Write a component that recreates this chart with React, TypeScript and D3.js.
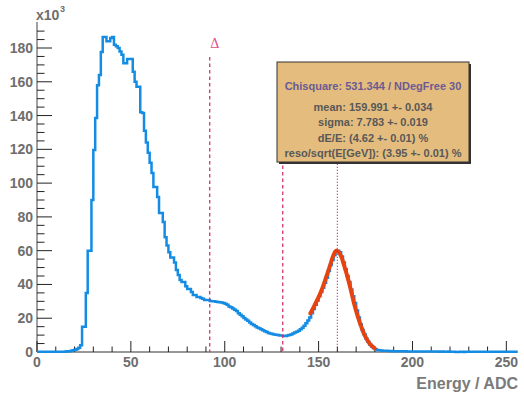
import React from 'react';
import * as d3 from 'd3';

const W = 524;
const H = 394;

// histogram counts (x10^3), one bin per ADC channel, bins 0..255
const counts: number[] = [
  // 0-19
  0.1, 0.1, 0.1, 0.1, 0.1, 0.1, 0.1, 0.1, 0.1, 0.1, 0.1, 0.1, 0.1, 0.1, 0.1, 0.3, 0.4, 0.5, 0.7, 1.0,
  // 20-39
  1.3, 1.8, 2.5, 4, 15, 15, 35, 60, 60, 90, 119.6, 138.5, 158, 164, 177.6, 186.5, 186.5, 184, 184, 186,
  // 40-59
  186.5, 182, 181, 180, 178, 176, 171, 171, 173.5, 173.5, 173.5, 166, 160, 157, 157, 142, 141.5, 131, 124, 118,
  // 60-79
  112, 106, 97.7, 97.7, 91.8, 82.3, 82.3, 77, 68, 63, 59, 56, 56, 53, 48.5, 45.6, 42.6, 41.4, 41.4, 39,
  // 80-99
  37.3, 37.3, 35.5, 33.7, 33.7, 32.6, 32.6, 32, 31.5, 30.8, 30.8, 30.8, 30.2, 30, 30, 29.8, 29.6, 29.5, 29.3, 29,
  // 100-119
  28.5, 28, 27, 26.5, 25.8, 25, 24.3, 23, 22, 21.2, 20.2, 19.3, 18.5, 17.5, 16.6, 16, 15.2, 14.5, 14, 13.4,
  // 120-139
  12.9, 12.3, 11.8, 11.3, 11, 10.7, 10.4, 10.2, 10, 9.8, 9.7, 9.5, 9.5, 9.7, 10, 10.4, 10.9, 11.5, 12, 12.6,
  // 140-159
  13.4, 14.3, 15.5, 17, 18.6, 20.5, 23, 25.5, 28, 30.5, 33, 35.5, 38, 41, 44, 48, 51.5, 54.5, 57.5, 59.5,
  // 160-179
  60, 59, 56.5, 53, 49, 45, 41.5, 37, 33, 29, 24.5, 20.5, 16.5, 13, 10.5, 8, 6, 4.5, 3.3, 2.4,
  // 180-199
  1.6, 1.2, 1.0, 0.9, 0.8, 0.7, 0.7, 0.6, 0.6, 0.5, 0.5, 0.5, 0.45, 0.45, 0.4, 0.4, 0.4, 0.35, 0.35, 0.35,
  // 200-219
  0.3, 0.3, 0.3, 0.35, 0.3, 0.3, 0.25, 0.3, 0.3, 0.25, 0.25, 0.3, 0.25, 0.25, 0.2, 0.25, 0.25, 0.2, 0.2, 0.25,
  // 220-239
  0.2, 0.2, 0.2, 0.05, 0.05, 0.2, 0.2, 0.05, 0.2, 0.2, 0.2, 0.15, 0.15, 0.2, 0.15, 0.15, 0.15, 0.1, 0.15, 0.15,
  // 240-255
  0.15, 0.1, 0.1, 0.15, 0.1, 0.1, 0.1, 0.1, 0.1, 0.1, 0.1, 0.1, 0.1, 0.1, 0.1, 0.1,
];

// fitted curve (ADC, x10^3)
const fitX = [145.6, 147.9, 150.5, 152.3, 154.1, 155.9, 157.3, 158.5, 159.4, 160.6, 162.1, 163.8, 165.6, 167.4, 169.1, 170.9, 172.7, 174.5, 177.1, 179.8];
const fitY = [22.9, 27.8, 33.7, 38.7, 44.6, 50.5, 55.5, 58.8, 60, 59.4, 56.4, 50.5, 43.6, 35.7, 27.8, 20.9, 15, 10, 5.1, 2.2];

const xMajor = [0, 50, 100, 150, 200, 250];
const yMajor = [0, 20, 40, 60, 80, 100, 120, 140, 160, 180];
const xMinorStep = 10;
const yMinorStep = 5;

// vertical marker lines: x position (ADC) and top (x10^3)
const dashX = [92, 130.9];
const dashTop = [174.7, 110.5];
const meanX = 159.991;
const meanTop = 111.5;

const statTitle = 'Chisquare: 531.344 / NDegFree 30';
const statLines = [
  'mean: 159.991 +- 0.034',
  'sigma: 7.783 +- 0.019',
  'dE/E: (4.62 +- 0.01) %',
  'reso/sqrt(E[GeV]): (3.95 +- 0.01) %',
];

const FONT = '"Liberation Sans", Arial, Helvetica, sans-serif';

export default function App() {
  const x = d3.scaleLinear().domain([0, 256]).range([37, 517.6]);
  const y = d3.scaleLinear().domain([0, 195.4]).range([352, 22]);

  const histPts: [number, number][] = counts.map((c, i) => [i, c]);
  histPts.push([counts.length, counts[counts.length - 1]]);
  const histLine = d3
    .line<[number, number]>()
    .x((d) => x(d[0]))
    .y((d) => y(d[1]))
    .curve(d3.curveStepAfter);

  const fitPts: [number, number][] = fitX.map((v, i) => [v, fitY[i]]);
  const fitLine = d3
    .line<[number, number]>()
    .x((d) => x(d[0]))
    .y((d) => y(d[1]))
    .curve(d3.curveCatmullRom.alpha(0.5));

  const xMinor = d3.range(0, 256, xMinorStep).filter((v) => v % 50 !== 0);
  const yMinor = d3.range(0, 195, yMinorStep).filter((v) => v % 20 !== 0);

  const x0 = x(0);
  const y0 = y(0);

  const boxX = 277, boxY = 62, boxW = 192, boxH = 100;
  const cx = boxX + boxW / 2;

  return (
    <svg
      width={W}
      height={H}
      style={{ position: 'absolute', left: 0, top: 0, background: '#fff' }}
      fontFamily={FONT}
    >
      <rect x={0} y={0} width={W} height={H} fill="#fff" />

      {/* axis lines */}
      <line x1={x0} x2={x0} y1={y(195.4)} y2={y0} stroke="#808080" strokeWidth={1.5} />
      <line x1={x0} x2={x(256)} y1={y0} y2={y0} stroke="#333" strokeWidth={1} />

      {/* y ticks */}
      {yMajor.map((v) => (
        <line key={'ym' + v} x1={x0} x2={x0 + 15} y1={y(v)} y2={y(v)} stroke="#222" strokeWidth={1} />
      ))}
      {yMinor.map((v) => (
        <line key={'yn' + v} x1={x0} x2={x0 + 7.5} y1={y(v)} y2={y(v)} stroke="#222" strokeWidth={1} />
      ))}
      {yMajor.map((v) => (
        <text
          key={'yl' + v}
          x={33}
          y={y(v) + 5}
          textAnchor="end"
          fontSize={14}
          fontWeight="bold"
          fill="#6e6e6e"
        >
          {v}
        </text>
      ))}
      <text x={36} y={20} fontSize={14} fontWeight="bold" fill="#6e6e6e">
        x10
      </text>
      <text x={60} y={12} fontSize={9} fontWeight="bold" fill="#6e6e6e">
        3
      </text>

      {/* x ticks */}
      {xMajor.map((v) => (
        <line key={'xm' + v} x1={x(v)} x2={x(v)} y1={y0} y2={y0 - 11} stroke="#222" strokeWidth={1} />
      ))}
      {xMinor.map((v) => (
        <line key={'xn' + v} x1={x(v)} x2={x(v)} y1={y0} y2={y0 - 5.5} stroke="#222" strokeWidth={1} />
      ))}
      {xMajor.map((v) => (
        <text
          key={'xl' + v}
          x={x(v)}
          y={367}
          textAnchor="middle"
          fontSize={14}
          fontWeight="bold"
          fill="#6e6e6e"
        >
          {v}
        </text>
      ))}
      <text x={518} y={389} textAnchor="end" fontSize={16} fontWeight="bold" fill="#7a7a7a">
        Energy / ADC
      </text>

      {/* histogram */}
      <path d={histLine(histPts) || ''} fill="none" stroke="#148ce4" strokeWidth={2.5} />

      {/* fit */}
      <path d={fitLine(fitPts) || ''} fill="none" stroke="#e8420e" strokeWidth={4} strokeLinecap="round" />

      {/* markers */}
      {dashX.map((v, i) => (
        <line
          key={'dash' + i}
          x1={x(v)}
          x2={x(v)}
          y1={y(dashTop[i])}
          y2={y0}
          stroke="#d6336c"
          strokeWidth={1.3}
          strokeDasharray="3.5,3"
        />
      ))}
      <line
        x1={x(meanX)}
        x2={x(meanX)}
        y1={y(meanTop)}
        y2={y0}
        stroke="#b0206a"
        strokeWidth={1.2}
        strokeDasharray="1,2"
      />
      <text
        x={x(dashX[0]) + 5}
        y={48}
        textAnchor="middle"
        fontSize={14}
        fontFamily='"Liberation Serif", "DejaVu Serif", serif'
        fill="#e0508a"
      >
        Δ
      </text>

      {/* stat box */}
      <rect x={boxX + 2} y={boxY + 2} width={boxW} height={boxH} fill="#333" />
      <rect x={boxX} y={boxY} width={boxW} height={boxH} fill="#e4bd7e" stroke="#333" strokeWidth={1} />
      <text x={cx} y={90} textAnchor="middle" fontSize={11} fontWeight="bold" fill="#6b5a93">
        {statTitle}
      </text>
      {statLines.map((s, i) => (
        <text
          key={'st' + i}
          x={cx}
          y={110.5 + i * 15.5}
          textAnchor="middle"
          fontSize={11}
          fontWeight="bold"
          fill="#585858"
        >
          {s}
        </text>
      ))}
    </svg>
  );
}
